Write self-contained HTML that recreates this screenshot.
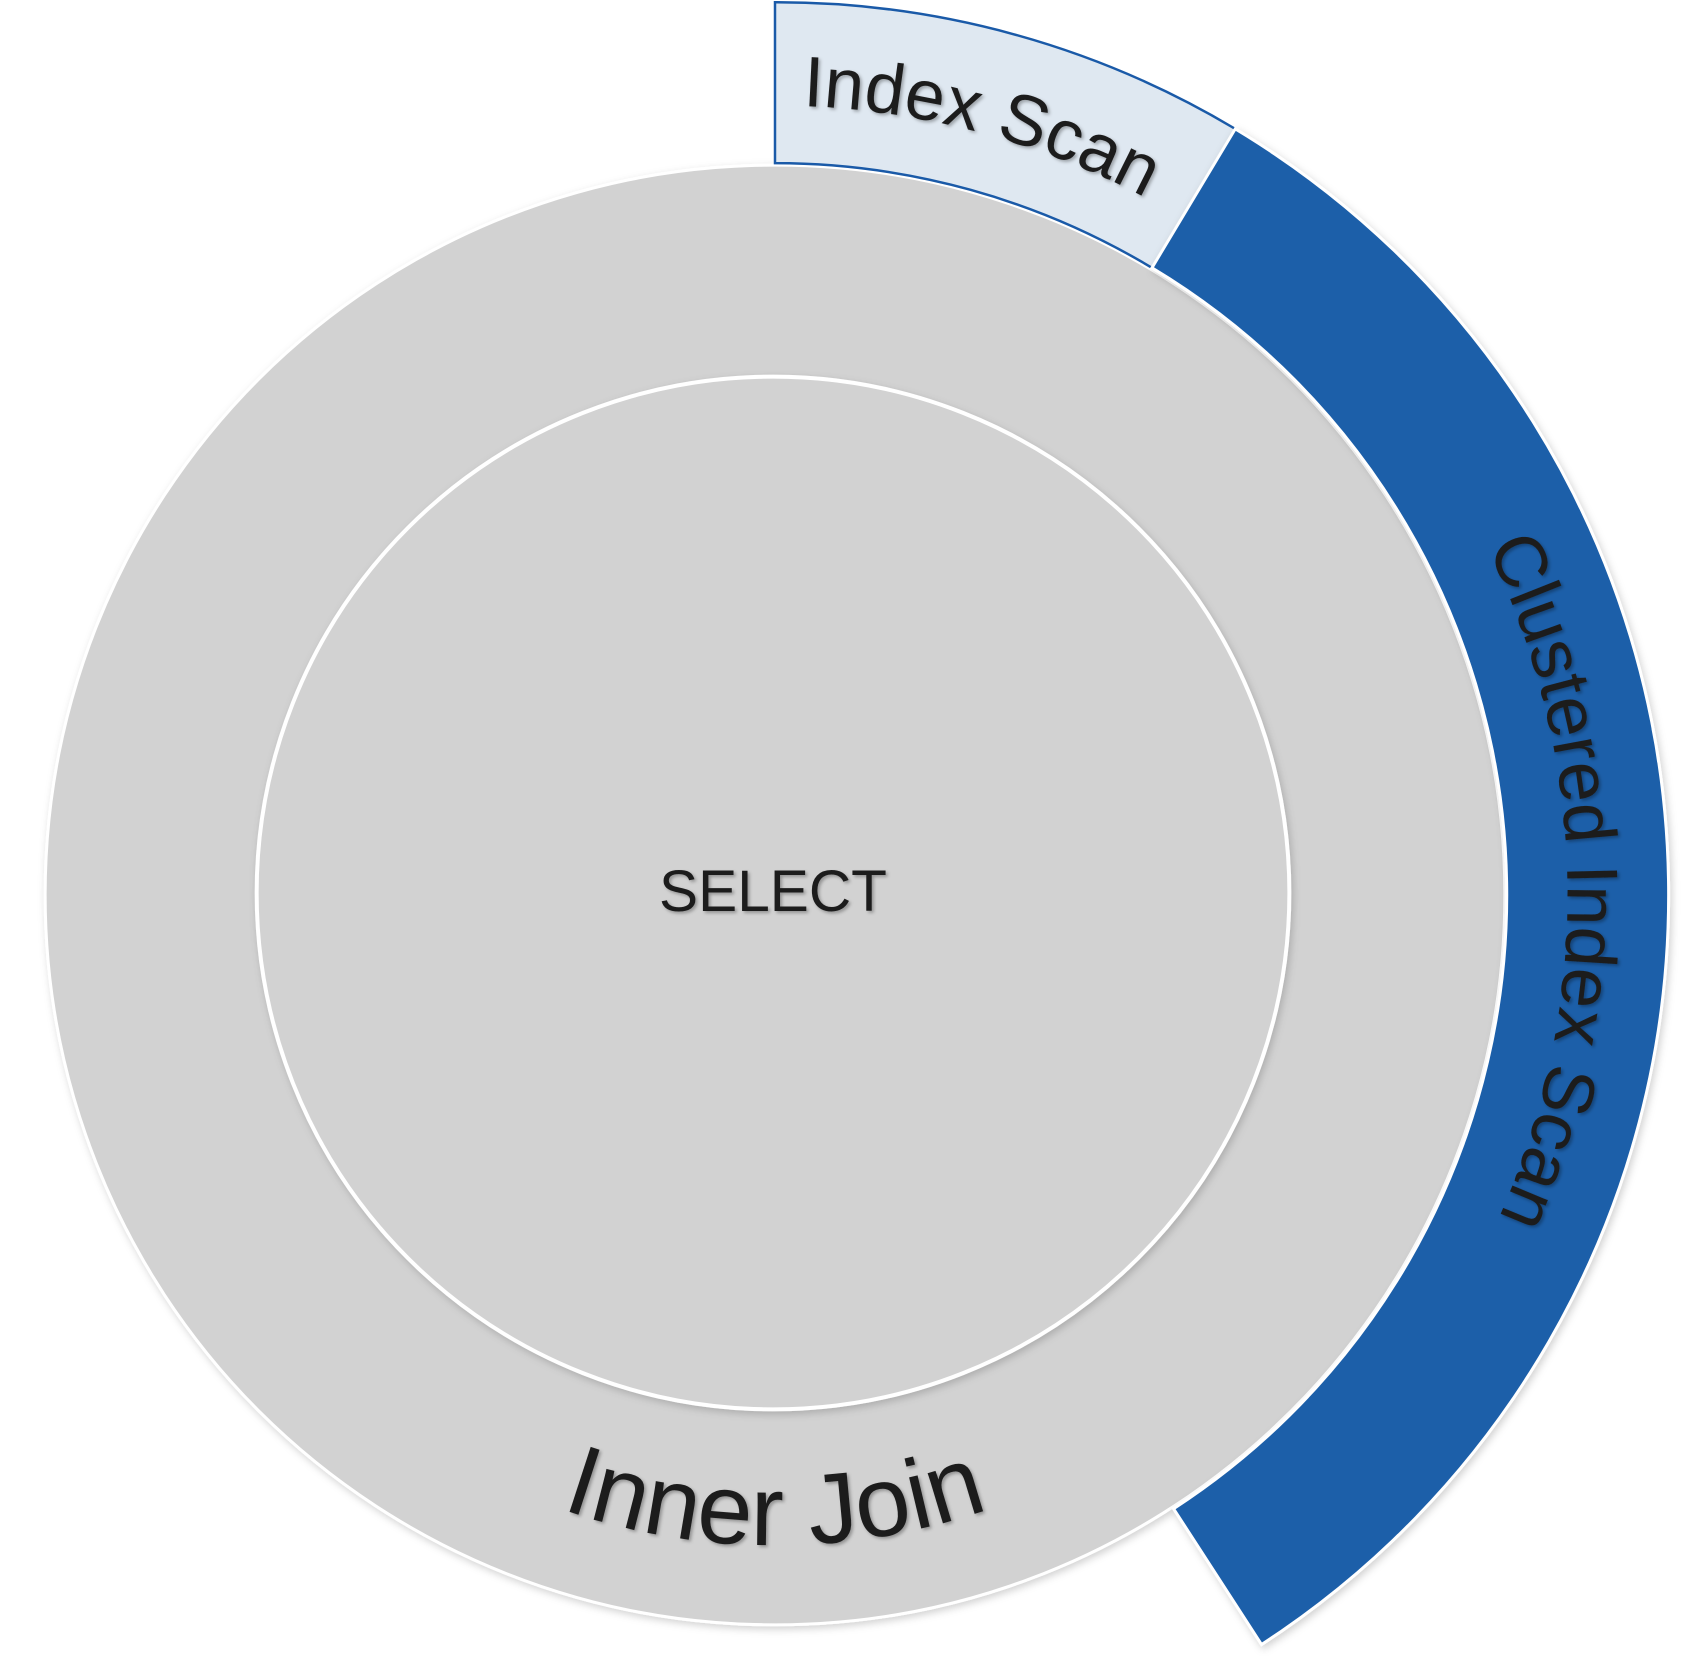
<!DOCTYPE html>
<html><head><meta charset="utf-8"><style>
html,body{margin:0;padding:0;background:#fff;}
svg{display:block;}
text{font-family:"Liberation Sans",sans-serif;fill:#1e1e1e;}
</style></head><body>
<svg width="1707" height="1660" viewBox="0 0 1707 1660" xmlns="http://www.w3.org/2000/svg">
<defs>
<filter id="sh" x="-5%" y="-5%" width="110%" height="110%"><feDropShadow dx="2" dy="3" stdDeviation="4" flood-color="#000" flood-opacity="0.18"/></filter>
<filter id="ts"><feDropShadow dx="2" dy="2" stdDeviation="1.5" flood-color="#000" flood-opacity="0.3"/></filter>
<path id="pIdx" d="M791.9,105.1 A795 795 0 0 1 1163.4,204.7"/>
<path id="pClu" d="M1164.9,202 A798 798 0 0 1 1189,1584"/>
<path id="pInn" d="M450.5,1467 A655 655 0 0 0 1105.5,1467"/>
</defs>
<g transform="translate(775,895) scale(0.993) translate(-778,-900)">
<circle cx="778" cy="900" r="735" fill="#d2d2d2" stroke="#fff" stroke-width="3" filter="url(#sh)"/>
<circle cx="776" cy="898" r="520" fill="#d2d2d2" stroke="#fff" stroke-width="4" filter="url(#sh)"/>
<path d="M778,1 A899 899 0 0 1 1241.5,128.5 L1157.6,268.4 A737 737 0 0 0 778,163 Z" fill="#dfe8f1" stroke="#1a5aa8" stroke-width="2.5"/>
<path d="M1241.5,128.5 A900 900 0 0 1 1268,1654.8 L1179.4,1518.1 A737 737 0 0 0 1157.6,268.4 Z" fill="#1d5fa9" stroke="#fff" stroke-width="3" filter="url(#sh)"/>
<g filter="url(#ts)">
<text font-size="72"><textPath href="#pIdx" startOffset="50%" text-anchor="middle">Index Scan</textPath></text>
<text font-size="73"><textPath href="#pClu" startOffset="50%" text-anchor="middle">Clustered Index Scan</textPath></text>
<text font-size="100"><textPath href="#pInn" startOffset="50%" text-anchor="middle">Inner Join</textPath></text>
<text x="776" y="916" font-size="59" text-anchor="middle">SELECT</text>
</g>
</g>
</svg>
</body></html>
